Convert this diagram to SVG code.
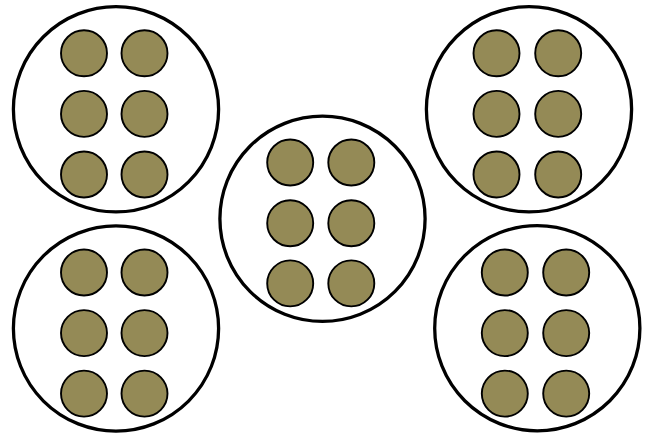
<svg xmlns="http://www.w3.org/2000/svg" width="654" height="436" viewBox="0 0 654 436">
<style>
.big{fill:#fff;stroke:#000;stroke-width:3.3}
.s{fill:#948A56;stroke:#000;stroke-width:1.9}
</style>
<rect width="654" height="436" fill="#fff"/>
<g id="group-top-left">
<circle class="big" cx="116" cy="109.3" r="102.6"/>
<circle class="s" cx="84" cy="53.3" r="23"/><circle class="s" cx="144.5" cy="53.3" r="23"/>
<circle class="s" cx="84" cy="113.9" r="23"/><circle class="s" cx="144.5" cy="113.9" r="23"/>
<circle class="s" cx="84" cy="174.5" r="23"/><circle class="s" cx="144.5" cy="174.5" r="23"/>
</g>
<g id="group-bottom-left">
<circle class="big" cx="116" cy="328.5" r="102.6"/>
<circle class="s" cx="84" cy="272.5" r="23"/><circle class="s" cx="144.5" cy="272.5" r="23"/>
<circle class="s" cx="84" cy="333.1" r="23"/><circle class="s" cx="144.5" cy="333.1" r="23"/>
<circle class="s" cx="84" cy="393.6" r="23"/><circle class="s" cx="144.5" cy="393.6" r="23"/>
</g>
<g id="group-middle">
<circle class="big" cx="322.5" cy="218.8" r="102.6"/>
<circle class="s" cx="290.2" cy="162.5" r="23"/><circle class="s" cx="351.3" cy="162.5" r="23"/>
<circle class="s" cx="290.2" cy="223.2" r="23"/><circle class="s" cx="351.3" cy="223.2" r="23"/>
<circle class="s" cx="290.2" cy="283.4" r="23"/><circle class="s" cx="351.3" cy="283.4" r="23"/>
</g>
<g id="group-top-right">
<circle class="big" cx="529" cy="109.3" r="102.6"/>
<circle class="s" cx="496.5" cy="53.3" r="23"/><circle class="s" cx="558.2" cy="53.3" r="23"/>
<circle class="s" cx="496.5" cy="113.9" r="23"/><circle class="s" cx="558.2" cy="113.9" r="23"/>
<circle class="s" cx="496.5" cy="174.5" r="23"/><circle class="s" cx="558.2" cy="174.5" r="23"/>
</g>
<g id="group-bottom-right">
<circle class="big" cx="537.3" cy="328.2" r="102.6"/>
<circle class="s" cx="504.8" cy="272.5" r="23"/><circle class="s" cx="566.2" cy="272.5" r="23"/>
<circle class="s" cx="504.8" cy="333.1" r="23"/><circle class="s" cx="566.2" cy="333.1" r="23"/>
<circle class="s" cx="504.8" cy="393.6" r="23"/><circle class="s" cx="566.2" cy="393.6" r="23"/>
</g>
<g id="connectors"/>
</svg>
